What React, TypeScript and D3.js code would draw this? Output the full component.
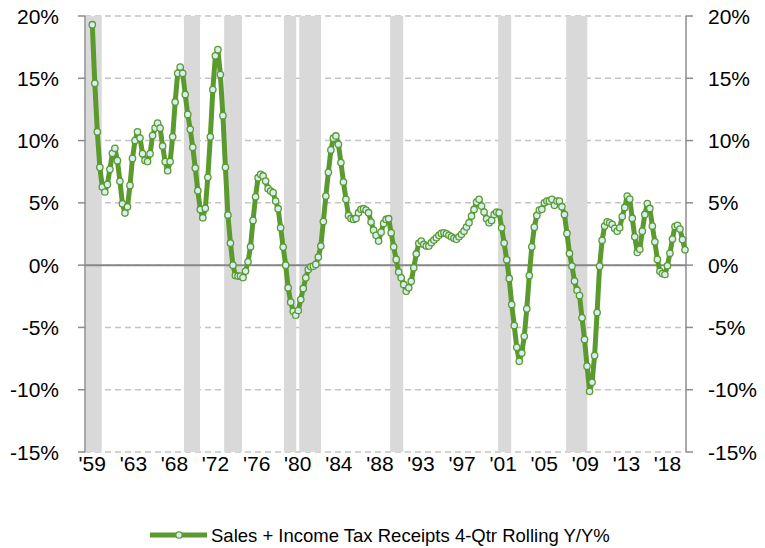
import React from "react";
import * as d3 from "d3";

// quarterly rolling y/y %
const taxGrowth = [
  19.3, 14.6, 10.7, 7.85, 6.27, 5.87, 6.48, 7.69, 8.98, 9.38,
  8.39, 6.73, 4.93, 4.18, 4.69, 6.4, 8.57, 10.0, 10.7, 10.2,
  8.95, 8.41, 8.31, 8.95, 10.4, 11.0, 11.4, 11.0, 9.57, 8.31,
  7.58, 8.31, 10.3, 13.1, 15.4, 15.9, 15.4, 13.7, 12.1, 10.9,
  9.46, 7.8, 5.98, 4.47, 3.8, 4.56, 7.05, 10.3, 14.1, 16.8,
  17.3, 15.3, 12.0, 7.85, 4.02, 1.77, 0.0, -0.83, -0.88, -0.88,
  -1.0, -0.48, 0.27, 1.48, 3.59, 5.49, 7.02, 7.29, 7.16, 6.75,
  6.14, 5.95, 5.82, 5.15, 4.53, 3.0, 1.45, 0.0, -1.82, -2.97,
  -3.7, -4.02, -3.64, -2.76, -1.87, -1.02, -0.35, -0.13, -0.08, 0.06,
  0.65, 1.53, 3.5, 5.55, 7.45, 9.25, 10.19, 10.37, 9.7, 8.23,
  6.67, 5.28, 3.99, 3.75, 3.67, 3.75, 4.21, 4.48, 4.53, 4.42,
  4.21, 3.46, 2.81, 2.39, 1.93, 2.65, 3.35, 3.67, 3.73, 2.6,
  1.47, 0.46, -0.56, -1.02, -1.55, -2.09, -1.82, -1.29, -0.21, 0.9,
  1.75, 1.93, 1.66, 1.53, 1.53, 1.8, 2.01, 2.2, 2.39, 2.55,
  2.6, 2.52, 2.39, 2.28, 2.15, 2.07, 2.28, 2.47, 2.73, 3.06,
  3.4, 3.94, 4.47, 5.06, 5.28, 4.74, 4.26, 3.72, 3.4, 3.59,
  4.07, 4.26, 4.21, 3.0, 1.77, 0.43, -1.07, -3.16, -4.85, -6.59,
  -7.72, -7.05, -5.71, -3.51, -0.83, 1.47, 3.05, 3.99, 4.42, 4.48,
  5.01, 5.14, 5.14, 5.28, 4.8, 5.14, 5.14, 4.69, 4.07, 2.55,
  0.94, -0.08, -1.28, -2.01, -2.44, -4.23, -5.97, -8.11, -10.13, -9.4,
  -7.26, -3.8, -0.08, 2.0, 3.14, 3.47, 3.4, 3.27, 2.95, 2.73,
  3.0, 3.9, 4.63, 5.55, 5.3, 3.77, 2.27, 1.02, 1.28, 2.73,
  4.07, 4.95, 4.55, 3.14, 1.87, 0.46, -0.5, -0.68, -0.75, -0.05,
  0.95, 2.1, 3.1, 3.2, 2.9, 2.05, 1.23,
];

// recession shading, as [start, end] in quarter index
const recessions = [
  [-2.5, 3.75],
  [36.5, 42.9],
  [52.5, 59.6],
  [76.3, 81.2],
  [82.4, 91.1],
  [118.6, 123.8],
  [161.6, 166.8],
  [188.7, 197.1],
];

const xLabels = ["'59", "'63", "'68", "'72", "'76", "'80", "'84", "'88", "'93", "'97", "'01", "'05", "'09", "'13", "'18"];
const xLabelStep = 16.36; // quarters between labels
const yTicks = [-15, -10, -5, 0, 5, 10, 15, 20];
const legendLabel = "Sales + Income Tax Receipts 4-Qtr Rolling Y/Y%";

const W = 765;
const H = 548;
const left = 85;
const right = 686;
const top = 16;
const bottom = 452;

const GREEN = "#5b9a2e";
const FONT = "'Liberation Sans', Arial, sans-serif";

export default function App() {
  const x = d3.scaleLinear().domain([0, taxGrowth.length - 1]).range([92.3, 685]);
  const y = d3.scaleLinear().domain([-15, 20]).range([bottom, top]);

  const line = d3
    .line<number>()
    .x((d, i) => x(i))
    .y((d) => y(d));

  return (
    <svg
      width={W}
      height={H}
      style={{ position: "absolute", left: 0, top: 0, background: "#fff" }}
      fontFamily={FONT}
    >
      {/* gridlines */}
      {yTicks.map((t) => (
        <line
          key={"g" + t}
          x1={left}
          x2={right}
          y1={y(t)}
          y2={y(t)}
          stroke="#c4c4c4"
          strokeWidth={1.5}
          strokeDasharray="6,4"
        />
      ))}

      {/* recession bars */}
      {recessions.map(([a, b], i) => {
        const x0 = Math.max(left + 0.8, x(a));
        const x1 = Math.min(right, x(b));
        return <rect key={"r" + i} x={x0} y={top} width={x1 - x0} height={bottom - top} fill="#d9d9d9" />;
      })}

      {/* zero line */}
      <line x1={left} x2={right} y1={y(0)} y2={y(0)} stroke="#878787" strokeWidth={2} />

      {/* axes */}
      <line x1={left} x2={left} y1={top} y2={bottom} stroke="#8c8c8c" strokeWidth={1.5} />
      <line x1={right} x2={right} y1={top} y2={bottom} stroke="#8c8c8c" strokeWidth={1.5} />
      {yTicks.map((t) => (
        <g key={"t" + t}>
          <line x1={left - 7} x2={left} y1={y(t)} y2={y(t)} stroke="#8c8c8c" strokeWidth={1.5} />
          <line x1={right} x2={right + 7} y1={y(t)} y2={y(t)} stroke="#8c8c8c" strokeWidth={1.5} />
          <text x={59} y={y(t)} dy="0.36em" textAnchor="end" fontSize={21} fill="#000">
            {t + "%"}
          </text>
          <text x={708} y={y(t)} dy="0.36em" textAnchor="start" fontSize={21} fill="#000">
            {t + "%"}
          </text>
        </g>
      ))}

      {xLabels.map((lab, i) => (
        <text key={lab} x={x(i * xLabelStep)} y={471} textAnchor="middle" fontSize={21} fill="#000">
          {lab}
        </text>
      ))}

      {/* series */}
      <path d={line(taxGrowth) || ""} fill="none" stroke={GREEN} strokeWidth={5} strokeLinejoin="round" />
      {taxGrowth.map((v, i) => (
        <circle key={i} cx={x(i)} cy={y(v)} r={3.2} fill="#d6eef2" stroke={GREEN} strokeWidth={1.3} />
      ))}

      {/* legend */}
      <line x1={150} x2={207} y1={535} y2={535} stroke={GREEN} strokeWidth={5} />
      <circle cx={179} cy={535} r={3.2} fill="#d6eef2" stroke={GREEN} strokeWidth={1.3} />
      <text x={211} y={535} dy="0.36em" fontSize={18.5} fill="#000">
        {legendLabel}
      </text>
    </svg>
  );
}
